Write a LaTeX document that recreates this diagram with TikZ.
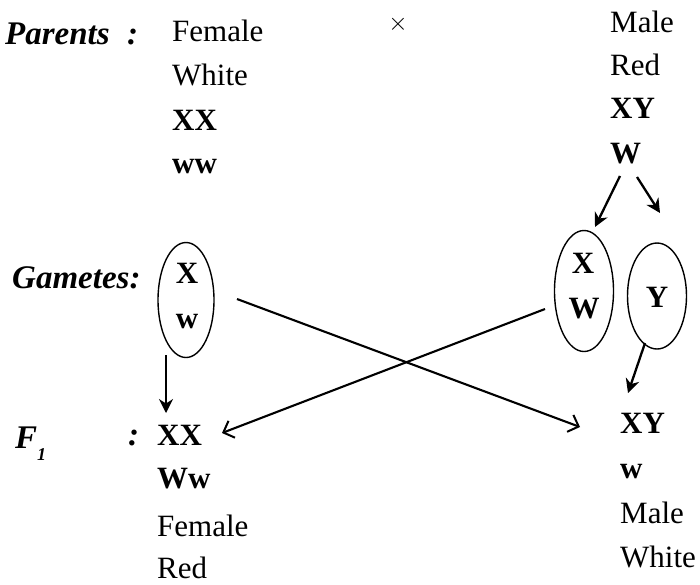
\documentclass[tikz,border=0pt]{standalone}
\usepackage{fontspec}
\setmainfont{Liberation Serif}
\usetikzlibrary{shapes.geometric,arrows.meta}
\begin{document}
\begin{tikzpicture}[x=1pt,y=-1pt,
  txt/.style={anchor=base west,inner sep=0pt,font=\fontsize{31}{31}\selectfont},
  gen/.style={txt,font=\fontsize{31}{31}\selectfont\bfseries},
  ctr/.style={anchor=base,inner sep=0pt,font=\fontsize{31}{31}\selectfont\bfseries},
  lbl/.style={anchor=base west,inner sep=0pt,font=\fontsize{33}{33}\selectfont\bfseries\itshape},
  gam/.style={draw,ellipse,line width=1.4pt,inner sep=0pt},
  cross/.style={line width=2.1pt,-{Straight Barb[length=9pt,width=18pt,line width=2pt]}},
  heavy/.style={line width=2.3pt,-{Stealth[length=14pt,width=14pt]}}]
\useasboundingbox (0,0) rectangle (700,584);
% Parents
\node[lbl] (par) at (5,44) {Parents};
\node[lbl] (pc) at (127,44) {:};
\node[txt] (ff) at (172,41) {Female};
\node[txt] (fw) at (172,85) {White};
\node[gen] (fxx) at (172,130) {XX};
\node[gen] (fww) at (172,173) {ww};
\node[anchor=center,inner sep=0pt,font=\fontsize{26}{26}\selectfont] (x) at (398,24) {$\times$};
\node[txt] (mm) at (610,32) {Male};
\node[txt] (mr) at (610,75) {Red};
\node[gen] (mxy) at (610,118) {XY};
\node[gen] (mw) at (610,163) {W};
% Gametes
\node[lbl] (gl) at (12,288) {Gametes:};
\node[gam,minimum width=56pt,minimum height=115pt] (e1) at (186,300) {};
\node[ctr] (e1x) at (187,283) {X};
\node[ctr] (e1w) at (187,328) {w};
\node[gam,minimum width=59pt,minimum height=121pt] (e2) at (584,291) {};
\node[ctr] (e2x) at (583,273) {X};
\node[ctr] (e2w) at (584,318) {W};
\node[gam,minimum width=59pt,minimum height=106pt] (e3) at (657,296) {};
\node[ctr] (e3y) at (657,307) {Y};
% F1
\node[lbl] (f1) at (15,448) {F};
\node[anchor=base west,inner sep=0pt,font=\fontsize{18}{18}\selectfont\bfseries\itshape] (f1s) at (37,460) {1};
\node[lbl] (f1c) at (128,445) {:};
\node[gen] (cxx) at (157,445) {XX};
\node[gen] (cww) at (157,488) {Ww};
\node[txt] (cf) at (157,536) {Female};
\node[txt] (cr) at (157,578) {Red};
\node[gen] (cxy) at (620,433) {XY};
\node[gen] (cw) at (620,478) {w};
\node[txt] (cm) at (620,523) {Male};
\node[txt] (cwh) at (620,567) {White};
% connector ends
\coordinate (w1s) at (620,176);
\coordinate (w1e) at (595,227);
\coordinate (w2s) at (637,177);
\coordinate (w2e) at (660,213);
\coordinate (ys) at (645,343);
\coordinate (ye) at (628,393);
\coordinate (ls) at (166,355);
\coordinate (le) at (166,413);
\coordinate (c1s) at (237,299);
\coordinate (c1e) at (580,427);
\coordinate (c2s) at (545,309);
\coordinate (c2e) at (222,433);
\draw[heavy] (w1s) -- (w1e);
\draw[heavy] (w2s) -- (w2e);
\draw[heavy] (ys) -- (ye);
\draw[heavy,line width=1.8pt] (ls) -- (le);
\draw[cross] (c1s) -- (c1e);
\draw[cross] (c2s) -- (c2e);
\end{tikzpicture}
\end{document}
